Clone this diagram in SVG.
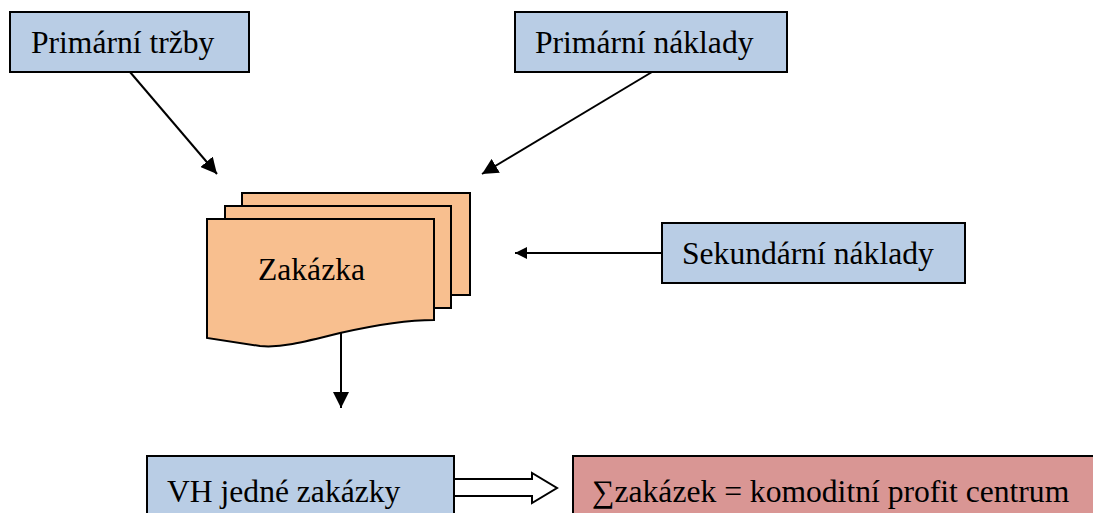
<svg xmlns="http://www.w3.org/2000/svg" width="1093" height="513" viewBox="0 0 1093 513">
<style>
.box{fill:#B9CDE5;stroke:#000;stroke-width:2}
.doc{fill:#F8BF8F;stroke:#000;stroke-width:2}
.red{fill:#D99694;stroke:#000;stroke-width:2}
.t{font-family:"Liberation Serif","Times New Roman",serif;font-size:31.6px;fill:#000}
.c{stroke:#000;stroke-width:2;fill:none}
</style>
<defs>
<marker id="ah" viewBox="0 0 10 10" refX="10" refY="5" markerWidth="12" markerHeight="12" markerUnits="userSpaceOnUse" orient="auto">
<path d="M0,0 L10,5 L0,10 z" fill="#000"/>
</marker>
<marker id="ah2" viewBox="0 0 10 10" refX="10" refY="5" markerWidth="16" markerHeight="16" markerUnits="userSpaceOnUse" orient="auto">
<path d="M0,0 L10,5 L0,10 z" fill="#000"/>
</marker>
</defs>
<rect width="1093" height="513" fill="#fff"/>
<g id="connectors">
<line class="c" x1="130" y1="72" x2="217" y2="174" marker-end="url(#ah2)"/>
<line class="c" x1="652" y1="72" x2="482" y2="174" marker-end="url(#ah2)"/>
<line class="c" x1="662" y1="253" x2="515" y2="253" marker-end="url(#ah)"/>
<line class="c" x1="341" y1="333" x2="341" y2="408" marker-end="url(#ah2)"/>
<path d="M454,479 H532 V473 L557,488 L532,503 V496 H454" fill="#fff" stroke="#000" stroke-width="2"/>
</g>
<g id="primarni-trzby">
<rect class="box" x="10" y="12" width="239" height="60"/>
<text class="t" x="31" y="53">Primární tržby</text>
</g>
<g id="primarni-naklady">
<rect class="box" x="515" y="12" width="272" height="60"/>
<text class="t" x="535" y="53">Primární náklady</text>
</g>
<g id="zakazka">
<rect class="doc" x="242" y="193" width="228" height="102"/>
<rect class="doc" x="225" y="206" width="226" height="102"/>
<path class="doc" d="M207,219 H434 V320 C410,320 380,324 340,333 C300,343 280,348 260,346 L207,338 Z"/>
<text class="t" x="258" y="280">Zakázka</text>
</g>
<g id="sekundarni-naklady">
<rect class="box" x="662" y="223" width="303" height="60"/>
<text class="t" x="682" y="264">Sekundární náklady</text>
</g>
<g id="vh-jedne-zakazky">
<rect class="box" x="147" y="456" width="307" height="70"/>
<text class="t" x="167" y="502">VH jedné zakázky</text>
</g>
<g id="suma-zakazek">
<rect class="red" x="573" y="456" width="530" height="70"/>
<text class="t" x="592" y="502">∑zakázek = komoditní profit centrum</text>
</g>
</svg>
